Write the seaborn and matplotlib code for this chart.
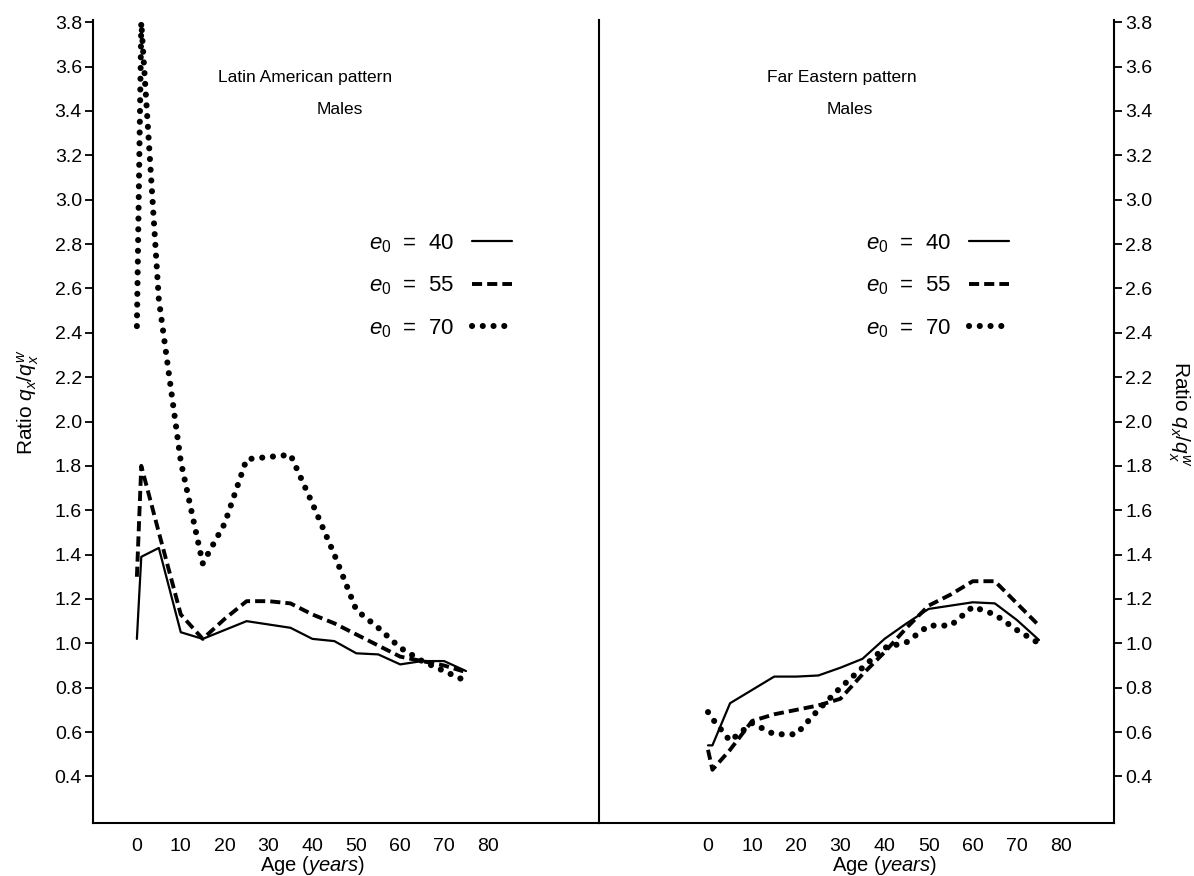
import matplotlib
matplotlib.use("Agg")
import matplotlib.pyplot as plt
import numpy as np
import pandas as pd
import seaborn as sns

ages = [0, 1, 5, 10, 15, 20, 25, 30, 35, 40, 45, 50, 55, 60, 65, 70, 75]

# Latin American pattern, males
latin_e40 = [1.02, 1.39, 1.43, 1.05, 1.02, 1.06, 1.10, 1.085, 1.07, 1.02, 1.01, 0.955, 0.95, 0.905, 0.92, 0.92, 0.875]
latin_e55 = [1.30, 1.80, 1.50, 1.13, 1.02, 1.11, 1.19, 1.19, 1.18, 1.13, 1.09, 1.04, 0.99, 0.94, 0.92, 0.90, 0.87]
latin_e70 = [2.43, 3.80, 2.55, 1.82, 1.36, 1.54, 1.83, 1.84, 1.85, 1.63, 1.40, 1.15, 1.07, 0.98, 0.92, 0.875, 0.83]

# Far Eastern pattern, males
fareast_e40 = [0.54, 0.54, 0.73, 0.79, 0.85, 0.85, 0.855, 0.89, 0.93, 1.02, 1.09, 1.155, 1.17, 1.185, 1.18, 1.105, 1.015]
fareast_e55 = [0.52, 0.43, 0.52, 0.65, 0.68, 0.70, 0.72, 0.75, 0.86, 0.96, 1.07, 1.17, 1.22, 1.28, 1.28, 1.18, 1.08]
fareast_e70 = [0.69, 0.66, 0.56, 0.64, 0.59, 0.59, 0.70, 0.80, 0.89, 0.98, 1.005, 1.08, 1.08, 1.165, 1.13, 1.06, 1.00]

panel_titles = ["Latin American pattern", "Far Eastern pattern"]
legend_labels = [r"$e_0$  =  40", r"$e_0$  =  55", r"$e_0$  =  70"]
x_ticks = [0, 10, 20, 30, 40, 50, 60, 70, 80]
y_ticks = [0.4, 0.6, 0.8, 1.0, 1.2, 1.4, 1.6, 1.8, 2.0, 2.2, 2.4, 2.6, 2.8, 3.0, 3.2, 3.4, 3.6, 3.8]

sns.set_theme(style="white")
plt.rcParams['font.family'] = ['Liberation Sans', 'DejaVu Sans']
plt.rcParams['mathtext.fontset'] = 'custom'
plt.rcParams['mathtext.rm'] = 'Liberation Sans'
plt.rcParams['mathtext.it'] = 'Liberation Sans:italic'
plt.rcParams['mathtext.bf'] = 'Liberation Sans:bold'
for key in ['text.color', 'axes.labelcolor', 'xtick.color', 'ytick.color', 'axes.edgecolor']:
    plt.rcParams[key] = 'black'

styles = {
    "solid": dict(lw=1.6, linestyle="-"),
    "dashed": dict(lw=2.8, linestyle=(0, (2.6, 1.3))),
    "dotted": dict(lw=4.4, linestyle=(0, (0.01, 1.75)), dash_capstyle="round"),
}

fig = plt.figure(figsize=(11.94, 8.76), dpi=100)
W, H = 1194, 876
bottom = 1 - 823 / H
height = (823 - 20) / H
ax1 = fig.add_axes([93 / W, bottom, (599 - 93) / W, height])
ax2 = fig.add_axes([599 / W, bottom, (1114 - 599) / W, height])

panels = [
    (ax1, [latin_e40, latin_e55, latin_e70], (-10.0, 105.3)),
    (ax2, [fareast_e40, fareast_e55, fareast_e70], (-24.7, 92.0)),
]

for ax, series, xlim in panels:
    for vals, st in zip(series, ["solid", "dashed", "dotted"]):
        df = pd.DataFrame({"age": ages, "ratio": vals})
        sns.lineplot(data=df, x="age", y="ratio", ax=ax, color="black", **styles[st])
    ax.set_xlim(*xlim)
    ax.set_ylim(0.19, 3.81)
    ax.set_xticks(x_ticks)
    ax.set_yticks(y_ticks)
    ax.set_yticklabels([f"{v:.1f}" for v in y_ticks])
    ax.spines['top'].set_visible(False)
    for s in ['left', 'right', 'bottom']:
        ax.spines[s].set_linewidth(1.5)
        ax.spines[s].set_color("black")
    ax.tick_params(axis='both', direction='out', length=6, width=1.3, colors='black',
                   labelsize=14, pad=2)
    ax.tick_params(axis='x', pad=5)
    ax.set_xlabel(r"Age $\mathit{(years)}$", fontsize=14.5, labelpad=0)
    x0, x1 = ax.get_xlim()
    ax.xaxis.set_label_coords((40 - x0) / (x1 - x0), -0.038)

ax2.set_facecolor("none")

# left panel: y axis on left, right spine as divider
ax1.spines['right'].set_visible(True)
ax1.tick_params(axis='y', left=True, right=False)
ax1.set_ylabel(r"Ratio $q_x/q_x^w$", fontsize=15, va='center')
ax1.yaxis.set_label_coords(-0.128, 0.524)

# right panel: y axis on right
ax2.spines['left'].set_visible(False)
ax2.yaxis.tick_right()
ax2.yaxis.set_label_position('right')
ax2.tick_params(axis='y', left=False, right=True, labelleft=False, labelright=True)
ax2.set_ylabel(r"Ratio $q_x/q_x^w$", fontsize=15, rotation=-90, va='center')
ax2.yaxis.set_label_coords(1.126, 0.51)

# panel titles
ax1.text(0.419, 0.928, panel_titles[0], transform=ax1.transAxes, ha='center', va='center', fontsize=12.5)
ax1.text(0.488, 0.888, "Males", transform=ax1.transAxes, ha='center', va='center', fontsize=12.5)
ax2.text(0.472, 0.928, panel_titles[1], transform=ax2.transAxes, ha='center', va='center', fontsize=12.5)
ax2.text(0.487, 0.888, "Males", transform=ax2.transAxes, ha='center', va='center', fontsize=12.5)

# legends: label first, line sample after
for ax, xpos in [(ax1, 0.545), (ax2, 0.518)]:
    ax.legend(ax.lines[:3], legend_labels, loc='upper left', bbox_to_anchor=(xpos, 0.736),
              frameon=False, markerfirst=False, fontsize=16, handlelength=1.8,
              handletextpad=0.8, labelspacing=0.9, borderpad=0, borderaxespad=0)

fig.savefig("out.png", dpi=100, facecolor="white")
